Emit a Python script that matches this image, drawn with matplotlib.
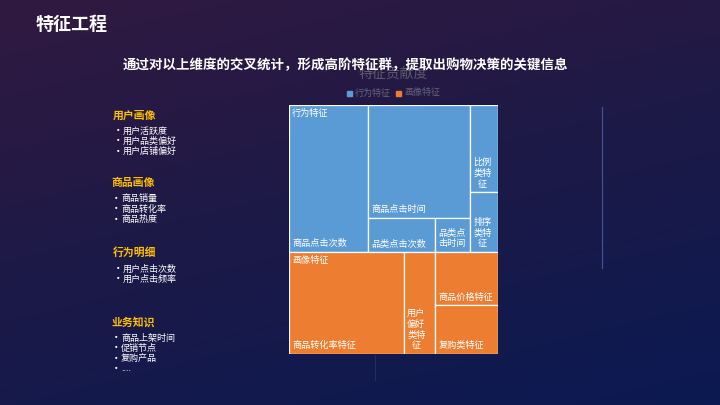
import numpy as np
import matplotlib
matplotlib.use("Agg")
import matplotlib.pyplot as plt
from matplotlib.patches import Rectangle
from matplotlib.colors import LinearSegmentedColormap

plt.rcParams['font.family'] = ['Noto Sans CJK SC', 'DejaVu Sans']

# ---- data ----
title = '特征工程'
subtitle = '通过对以上维度的交叉统计，形成高阶特征群，提取出购物决策的关键信息'
chart_title = '特征贡献度'

group_names = ['行为特征', '画像特征']
group_colors = ['#5b9bd5', '#ed7d31']

behavior_names = ['商品点击次数', '商品点击时间', '品类点击次数', '品类点击时间', '比例类特征', '排序类特征']
behavior_values = [22.3, 22.1, 4.4, 2.3, 4.7, 3.2]
behavior_tree = [0, [1, [2, 3]], [4, 5]]

profile_names = ['商品转化率特征', '用户偏好类特征', '商品价格特征', '复购类特征']
profile_values = [22.5, 6.1, 6.4, 5.9]
profile_tree = [0, 1, [2, 3]]

section_titles = ['用户画像', '商品画像', '行为明细', '业务知识']
section_items = [
    ['用户活跃度', '用户品类偏好', '用户店铺偏好'],
    ['商品销量', '商品转化率', '商品热度'],
    ['用户点击次数', '用户点击频率'],
    ['商品上架时间', '促销节点', '复购产品', '....'],
]


def subtotal(node, values):
    if isinstance(node, int):
        return values[node]
    return sum(subtotal(n, values) for n in node)


def layout(node, values, x, y, w, h, sx, sy, out):
    # split along the longer side, sizes proportional to values
    if isinstance(node, int):
        out.append((node, x, y, w, h))
        return
    sums = [subtotal(n, values) for n in node]
    total = sum(sums)
    if w * sx >= h * sy:
        cx = x
        for n, s in zip(node, sums):
            cw = w * s / total
            layout(n, values, cx, y, cw, h, sx, sy, out)
            cx += cw
    else:
        cy = y + h
        for n, s in zip(node, sums):
            ch = h * s / total
            cy -= ch
            layout(n, values, x, cy, w, ch, sx, sy, out)


def wrap(text, width_px, char_px=9.0):
    n = max(1, int((width_px - 6) / char_px))
    return '\n'.join(text[i:i + n] for i in range(0, len(text), n))


fig = plt.figure(figsize=(7.2, 4.05), dpi=100)

# background
ax_bg = fig.add_axes([0, 0, 1, 1], zorder=0)
yy, xx = np.mgrid[0:1:200j, 0:1:360j]
t = 0.3 * xx + 0.7 * yy
cmap = LinearSegmentedColormap.from_list('bg', ['#311a40', '#1c1947', '#0b1a52'])
ax_bg.imshow(t, cmap=cmap, extent=[0, 720, 405, 0], aspect='auto', interpolation='bilinear')
ax_bg.set_xlim(0, 720)
ax_bg.set_ylim(405, 0)
ax_bg.axis('off')

# faint decorative lines
ax_bg.plot([601.5, 601.5], [107, 268], color='#5068b0', lw=0.8, alpha=0.8)
ax_bg.plot([375, 375], [355, 380], color='#26336e', lw=0.8, alpha=0.8)

ax_bg.text(36, 24, title, color='white', fontsize=13, fontweight='bold', ha='left', va='center')
ax_bg.text(393, 74, chart_title, color='#5c5a6c', fontsize=10, ha='center', va='center')
ax_bg.text(345.5, 65, subtitle, color='white', fontsize=9.7, fontweight='bold', ha='center', va='center')

# legend
lx = [347, 396]
for i, name in enumerate(group_names):
    ax_bg.add_patch(Rectangle((lx[i], 90.5), 5, 5, color=group_colors[i]))
    ax_bg.text(lx[i] + 8, 93, name, color='#66647a', fontsize=6.5, ha='left', va='center')

# left column
title_y = [115, 183, 253, 322]
title_x = [113, 111, 113, 111]
for sx_, sy_, head, items in zip(title_x, title_y, section_titles, section_items):
    ax_bg.text(sx_, sy_, head, color='#ffc000', fontsize=7.8, fontweight='bold', ha='left', va='center')
    for k, item in enumerate(items):
        yk = sy_ + 16 + k * 10.3
        ax_bg.text(sx_ - 0.5, yk, '•', color='white', fontsize=7.5, ha='left', va='center')
        ax_bg.text(sx_ + 10, yk, item, color='white', fontsize=6.5, ha='left', va='center')

# treemap
ax = fig.add_axes([289 / 720, 51 / 405, 209 / 720, 249 / 405], zorder=2)
ax.set_xlim(0, 1)
ax.set_ylim(0, 1)
ax.axis('off')
px_w = 209
px_h = 249

groups = [(behavior_names, behavior_values, behavior_tree),
          (profile_names, profile_values, profile_tree)]
totals = [sum(g[1]) for g in groups]
grand = sum(totals)

top = 1.0
for gi, (names, values, tree) in enumerate(groups):
    gh = totals[gi] / grand
    gy = top - gh
    rects = []
    layout(tree, values, 0, gy, 1, gh, px_w, px_h, rects)
    for idx, x, y, w, h in rects:
        ax.add_patch(Rectangle((x, y), w, h, facecolor=group_colors[gi],
                               edgecolor='white', lw=0.9))
        ax.annotate(wrap(names[idx], w * px_w), (x, y), xytext=(2.3, 2.6),
                    textcoords='offset points', ha='left', va='bottom',
                    fontsize=6.6, color='white', linespacing=1.25,
                    multialignment='center')
    ax.annotate(group_names[gi], (0, top), xytext=(2.3, -2.6),
                textcoords='offset points', ha='left', va='top',
                fontsize=6.6, color='white')
    top = gy

fig.savefig('out.png', dpi=100)
